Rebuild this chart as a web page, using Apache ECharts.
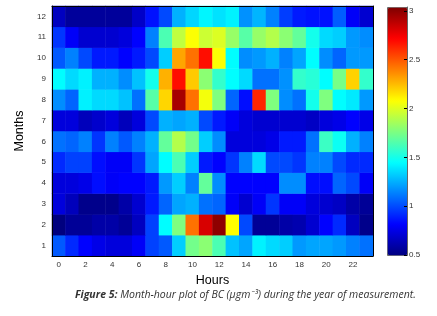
<!DOCTYPE html>
<html>
<head>
<meta charset="utf-8">
<script src="https://cdn.jsdelivr.net/npm/echarts@6/dist/echarts.min.js"></script>
<style>
  html, body { margin: 0; padding: 0; background: #fff; }
  #chart { width: 437px; height: 316px; }
</style>
</head>
<body>
<div id="chart"></div>
<script>
// Hours of the day (x) and months (y)
const hours = ['0', '1', '2', '3', '4', '5', '6', '7', '8', '9', '10', '11',
  '12', '13', '14', '15', '16', '17', '18', '19', '20', '21', '22', '23'];
const months = ['1', '2', '3', '4', '5', '6', '7', '8', '9', '10', '11', '12'];

// BC concentration (µg/m3), one row per month, hours 0..23
const bcJan = [1.04, 0.92, 0.82, 0.76, 0.73, 0.73, 0.80, 0.98, 1.04, 1.33, 1.74, 1.80, 1.64, 1.30, 1.23, 1.42, 1.36, 1.33, 1.20, 1.23, 1.23, 1.20, 1.14, 1.10];
const bcFeb = [0.50, 0.56, 0.56, 0.60, 0.60, 0.56, 0.66, 0.98, 1.45, 1.77, 2.44, 2.82, 3.00, 2.09, 1.00, 0.56, 0.56, 0.60, 0.62, 0.70, 0.82, 0.92, 0.66, 0.53];
const bcMar = [0.73, 0.65, 0.53, 0.53, 0.53, 0.60, 0.70, 0.88, 1.07, 1.23, 1.26, 1.10, 1.07, 0.80, 0.70, 0.80, 0.95, 0.80, 0.80, 0.73, 0.70, 0.67, 0.60, 0.56];
const bcApr = [0.73, 0.73, 0.76, 0.85, 0.80, 0.82, 0.82, 0.88, 1.20, 1.33, 1.14, 1.70, 1.17, 0.82, 0.82, 0.82, 0.82, 1.17, 1.17, 0.85, 0.85, 1.07, 1.00, 0.80];
const bcMay = [0.92, 0.98, 0.98, 0.85, 0.80, 0.80, 0.95, 1.23, 1.45, 1.64, 1.33, 0.88, 0.82, 0.95, 1.14, 1.36, 1.00, 1.00, 0.95, 1.14, 1.14, 1.00, 0.92, 0.92];
const bcJun = [1.10, 1.07, 1.14, 0.95, 1.14, 1.04, 1.14, 1.26, 1.70, 1.90, 1.74, 1.33, 1.17, 0.73, 0.73, 0.73, 0.76, 0.88, 0.88, 1.10, 1.60, 1.48, 1.26, 1.14];
const bcJul = [0.73, 0.73, 0.65, 0.69, 0.73, 0.65, 0.73, 1.00, 1.26, 1.23, 1.26, 1.00, 0.88, 0.80, 0.73, 0.70, 0.70, 0.70, 0.70, 0.67, 0.73, 0.76, 0.82, 0.76];
const bcAug = [1.17, 1.07, 1.42, 1.36, 1.36, 1.30, 1.10, 1.67, 2.19, 2.94, 2.44, 2.06, 1.77, 1.07, 0.85, 2.63, 1.77, 1.17, 1.10, 1.50, 1.77, 1.45, 1.40, 1.20];
const bcSep = [1.45, 1.36, 1.42, 1.26, 1.26, 1.17, 1.30, 1.50, 2.28, 2.69, 2.22, 1.80, 1.58, 1.45, 1.36, 1.10, 1.10, 1.18, 1.58, 1.55, 1.45, 1.75, 2.20, 1.58];
const bcOct = [1.04, 1.14, 1.00, 0.88, 0.88, 0.82, 0.88, 1.00, 1.33, 2.31, 2.44, 2.69, 2.08, 1.45, 1.17, 1.20, 1.26, 1.14, 1.23, 1.45, 1.17, 1.07, 1.20, 1.20];
const bcNov = [0.95, 0.80, 0.70, 0.70, 0.70, 0.73, 0.82, 1.14, 1.64, 1.93, 2.08, 1.96, 2.00, 1.83, 1.67, 1.83, 1.90, 1.80, 1.70, 1.50, 1.36, 1.33, 1.20, 1.17];
const bcDec = [0.66, 0.57, 0.57, 0.57, 0.57, 0.57, 0.68, 0.86, 1.00, 1.26, 1.35, 1.43, 1.38, 1.42, 1.18, 1.27, 1.14, 0.97, 0.88, 0.86, 0.86, 1.05, 0.80, 0.70];
const monthRows = [bcJan, bcFeb, bcMar, bcApr, bcMay, bcJun, bcJul, bcAug, bcSep, bcOct, bcNov, bcDec];

// Colour bar scale
const cMin = 0.5;
const cMax = 3.04;

// MATLAB jet, sampled at 9 even stops
const jet = ['#00007f', '#0000ff', '#007fff', '#00ffff', '#7fff7f',
  '#ffff00', '#ff7f00', '#ff0000', '#7f0000'];

const cells = [];
monthRows.forEach((row, m) => {
  row.forEach((v, h) => cells.push([h, m, v]));
});

const chart = echarts.init(document.getElementById('chart'));

const tickLabel = { fontSize: 8, color: '#333', fontFamily: 'Arial, Liberation Sans, sans-serif' };
const frameLine = { show: true, lineStyle: { color: '#000', width: 1 } };
const evenTick = (i) => i % 2 === 0;

const option = {
  animation: false,
  title: {
    left: 75,
    top: 290,
    padding: 0,
    text: '{b|Figure 5:}{i| Month-hour plot of BC (\u03bcgm\u207b\u00b3) during the year of measurement.}',
    textStyle: {
      fontWeight: 'normal',
      rich: {
        b: { fontFamily: 'Open Sans', fontStyle: 'italic', fontWeight: 'bold', fontSize: 10.5, color: '#333' },
        i: { fontFamily: 'Open Sans', fontStyle: 'italic', fontWeight: 'normal', fontSize: 10.5, color: '#333' }
      }
    }
  },
  grid: [
    { left: 52, top: 6, width: 321, height: 250 },
    { left: 387, top: 7, width: 20, height: 248 }
  ],
  xAxis: [
    {
      type: 'category',
      gridIndex: 0,
      data: hours,
      position: 'bottom',
      z: 5,
      name: 'Hours',
      nameLocation: 'middle',
      nameGap: 18,
      nameTextStyle: { fontSize: 12.5, color: '#000', fontFamily: 'Arial, Liberation Sans, sans-serif' },
      axisLine: frameLine,
      axisTick: { inside: true, alignWithLabel: true, interval: evenTick, length: 3, lineStyle: { color: '#000' } },
      axisLabel: Object.assign({ interval: evenTick, margin: 5 }, tickLabel),
      splitLine: { show: false }
    },
    {
      type: 'category',
      gridIndex: 0,
      data: hours,
      position: 'top',
      z: 5,
      axisLine: frameLine,
      axisTick: { inside: true, alignWithLabel: true, interval: evenTick, length: 3, lineStyle: { color: '#000' } },
      axisLabel: { show: false }
    },
    {
      type: 'category',
      gridIndex: 1,
      data: ['c'],
      show: false
    }
  ],
  yAxis: [
    {
      type: 'category',
      gridIndex: 0,
      data: months,
      position: 'left',
      z: 5,
      name: 'Months',
      nameLocation: 'middle',
      nameGap: 22,
      nameRotate: 90,
      nameTextStyle: { fontSize: 12.5, color: '#000', fontFamily: 'Arial, Liberation Sans, sans-serif' },
      axisLine: frameLine,
      axisTick: { inside: true, alignWithLabel: true, length: 3, lineStyle: { color: '#000' } },
      axisLabel: Object.assign({ margin: 6 }, tickLabel)
    },
    {
      type: 'category',
      gridIndex: 0,
      data: months,
      position: 'right',
      z: 5,
      axisLine: frameLine,
      axisTick: { inside: true, alignWithLabel: true, length: 3, lineStyle: { color: '#000' } },
      axisLabel: { show: false }
    },
    {
      type: 'value',
      gridIndex: 1,
      position: 'right',
      min: cMin,
      max: cMax,
      interval: 0.5,
      z: 5,
      axisLine: { show: true, lineStyle: { color: '#666' } },
      axisTick: { show: true, inside: true, length: 3, lineStyle: { color: '#000' } },
      axisLabel: Object.assign({ margin: 2, showMaxLabel: false, formatter: (v) => String(v) }, tickLabel),
      splitLine: { show: false }
    }
  ],
  visualMap: {
    type: 'continuous',
    seriesIndex: 0,
    min: cMin,
    max: cMax,
    calculable: false,
    hoverLink: false,
    orient: 'vertical',
    left: 387,
    top: 7,
    itemWidth: 20,
    itemHeight: 248,
    padding: 0,
    text: null,
    showLabel: false,
    borderColor: '#666',
    borderWidth: 1,
    inRange: { color: jet }
  },
  series: [
    {
      type: 'heatmap',
      xAxisIndex: 0,
      yAxisIndex: 0,
      data: cells,
      itemStyle: { borderWidth: 0 },
      emphasis: { disabled: true }
    }
  ]
};

chart.setOption(option);
</script>
</body>
</html>
